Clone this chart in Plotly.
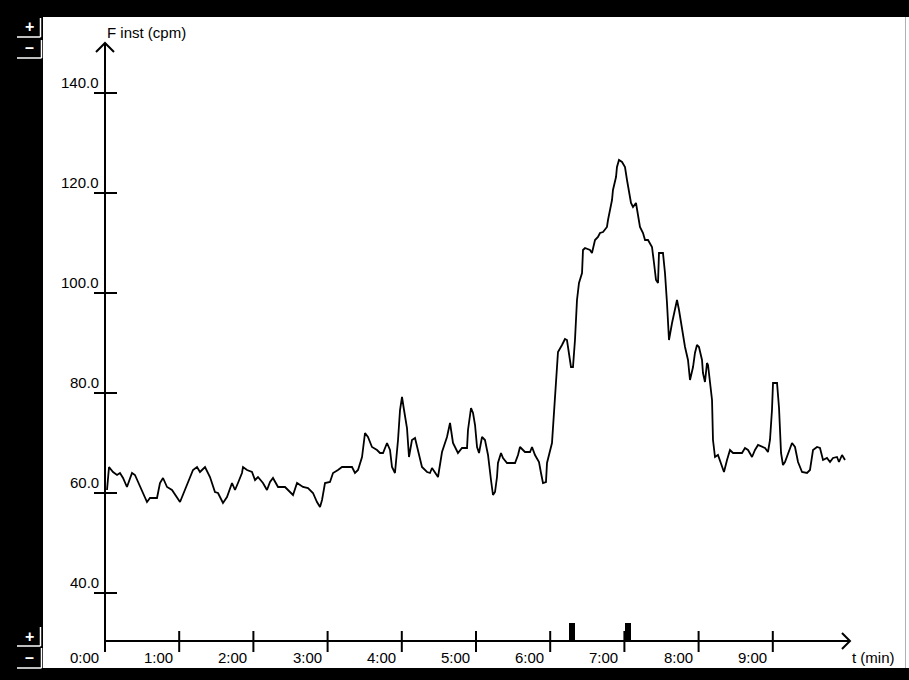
import plotly.graph_objects as go

# ---- data (time in minutes, instantaneous frequency in cpm) ----
TIME_MIN = [0.027, 0.054, 0.108, 0.162, 0.202, 0.243, 0.296, 0.364, 0.404, 0.445, 0.499, 0.566, 0.606, 0.701,
            0.741, 0.782, 0.836, 0.903, 1.011, 1.051, 1.119, 1.186, 1.240, 1.280, 1.348, 1.415, 1.482, 1.523,
            1.590, 1.644, 1.712, 1.752, 1.792, 1.846, 1.860, 1.914, 1.981, 2.022, 2.062, 2.129, 2.183, 2.224,
            2.264, 2.332, 2.426, 2.493, 2.534, 2.588, 2.668, 2.736, 2.803, 2.857, 2.898, 2.925, 2.965, 3.032,
            3.073, 3.140, 3.194, 3.275, 3.329, 3.369, 3.410, 3.464, 3.504, 3.544, 3.598, 3.666, 3.706, 3.747,
            3.801, 3.841, 3.868, 3.908, 3.949, 3.976, 4.003, 4.030, 4.070, 4.097, 4.137, 4.178, 4.218, 4.272,
            4.340, 4.380, 4.407, 4.447, 4.488, 4.542, 4.609, 4.650, 4.690, 4.757, 4.811, 4.879, 4.892, 4.933,
            4.960, 4.987, 5.014, 5.041, 5.081, 5.121, 5.162, 5.202, 5.229, 5.256, 5.283, 5.296, 5.337, 5.364,
            5.418, 5.526, 5.566, 5.593, 5.660, 5.728, 5.755, 5.795, 5.849, 5.876, 5.903, 5.943, 5.957, 6.024,
            6.051, 6.078, 6.105, 6.159, 6.199, 6.226, 6.240, 6.280, 6.307, 6.334, 6.361, 6.388, 6.429, 6.442,
            6.469, 6.536, 6.563, 6.604, 6.644, 6.671, 6.712, 6.765, 6.779, 6.806, 6.833, 6.846, 6.887, 6.900,
            6.927, 6.968, 7.008, 7.035, 7.062, 7.089, 7.116, 7.156, 7.183, 7.210, 7.251, 7.278, 7.318, 7.372,
            7.399, 7.426, 7.453, 7.466, 7.520, 7.547, 7.574, 7.601, 7.642, 7.682, 7.709, 7.736, 7.776, 7.817,
            7.857, 7.884, 7.925, 7.951, 7.978, 8.005, 8.046, 8.059, 8.086, 8.113, 8.127, 8.154, 8.181, 8.194,
            8.221, 8.261, 8.315, 8.342, 8.383, 8.423, 8.464, 8.585, 8.625, 8.666, 8.720, 8.760, 8.801, 8.854,
            8.895, 8.935, 8.962, 8.989, 9.003, 9.057, 9.084, 9.111, 9.137, 9.164, 9.205, 9.259, 9.299, 9.340,
            9.394, 9.461, 9.501, 9.542, 9.596, 9.636, 9.677, 9.730, 9.771, 9.811, 9.865, 9.892, 9.933, 9.973]
F_INST = [60.6, 65.2, 64.2, 63.6, 64.0, 63.0, 61.2, 64.0, 63.6, 62.2, 60.6, 58.2, 59.0, 59.0,
          62.0, 63.0, 61.2, 60.6, 58.2, 59.6, 62.0, 64.6, 65.2, 64.2, 65.2, 63.2, 60.2, 60.0,
          58.0, 59.2, 62.0, 60.6, 62.0, 64.0, 65.2, 64.6, 64.2, 62.6, 63.2, 62.0, 60.6, 62.2,
          63.0, 61.2, 61.2, 60.2, 59.6, 62.0, 61.2, 61.0, 60.0, 58.2, 57.2, 58.6, 62.0, 62.2,
          64.0, 64.6, 65.2, 65.2, 65.2, 64.0, 64.6, 67.2, 72.0, 71.2, 69.2, 68.6, 68.0, 68.0,
          70.0, 68.6, 65.2, 64.0, 70.6, 76.6, 79.2, 76.6, 73.0, 67.2, 70.6, 71.0, 68.6, 65.2,
          64.2, 64.0, 65.0, 64.0, 63.2, 68.2, 71.2, 74.0, 70.0, 68.0, 69.0, 69.0, 72.6, 77.0,
          76.0, 73.6, 69.2, 68.0, 71.2, 70.6, 67.6, 62.6, 59.6, 60.2, 63.2, 66.0, 68.0, 67.0,
          66.0, 66.0, 67.6, 69.2, 68.2, 68.2, 69.2, 67.6, 66.2, 64.0, 62.0, 62.2, 66.0, 70.0,
          76.6, 84.0, 88.2, 89.6, 90.8, 90.6, 89.2, 85.2, 85.2, 90.6, 98.6, 102.0, 104.0, 108.6,
          109.0, 108.6, 108.0, 110.6, 111.2, 112.0, 112.2, 113.2, 114.6, 116.6, 118.6, 120.6, 123.2, 125.2,
          126.6, 126.2, 125.2, 122.6, 120.0, 118.0, 117.2, 118.0, 115.6, 113.2, 112.0, 110.6, 110.6, 109.2,
          106.0, 102.6, 102.0, 108.0, 108.0, 104.0, 98.0, 90.6, 94.0, 96.6, 98.6, 96.6, 92.6, 89.2,
          86.6, 82.6, 85.2, 88.0, 89.6, 89.2, 86.6, 84.0, 82.2, 86.0, 85.6, 82.6, 78.6, 70.6,
          67.2, 67.6, 65.2, 64.2, 66.6, 68.6, 68.0, 68.0, 69.0, 68.6, 67.2, 68.6, 69.6, 69.2,
          69.0, 68.2, 70.6, 76.6, 82.0, 82.0, 77.0, 68.0, 65.6, 66.2, 68.0, 70.0, 69.2, 66.2,
          64.2, 64.0, 64.6, 68.6, 69.2, 69.0, 66.6, 67.0, 66.2, 67.0, 67.2, 66.2, 67.6, 66.6]

EVENT_TIMES = [6.29, 7.05]
XTICKS = [0, 1, 2, 3, 4, 5, 6, 7, 8, 9]
XTICK_LABELS = ["0:00", "1:00", "2:00", "3:00", "4:00", "5:00", "6:00", "7:00", "8:00", "9:00"]
YTICKS = [40, 60, 80, 100, 120, 140]
YTICK_LABELS = ["40.0", "60.0", "80.0", "100.0", "120.0", "140.0"]

# ---- axis geometry (data units) ----
PX_X = 74.2       # pixels per minute
PX_Y = 5.0        # pixels per cpm
X0, Y0 = 0.0, 30.4
X_END, Y_END = 10.04, 150.0
dx = lambda p: p / PX_X
dy = lambda p: p / PX_Y

FONT = "Liberation Sans, Arial, sans-serif"

fig = go.Figure()

# white panel + black frame
fig.add_shape(type="rect", xref="paper", yref="paper", x0=43/909, x1=1.0,
              y0=1-668/680, y1=1-17/680, fillcolor="white", line_width=0, layer="below")
fig.add_shape(type="line", xref="paper", yref="paper", x0=905.5/909, x1=905.5/909,
              y0=1-668/680, y1=1-17/680, line=dict(color="#b0b0b0", width=1), layer="below")

# left strip buttons (+ / -)
for (ytop, ybot, xr) in [(18, 37, 40.5), (40, 58, 41.5), (627, 646, 40.5), (648, 668, 41.5)]:
    fig.add_shape(type="line", xref="paper", yref="paper", x0=17/909, x1=xr/909,
                  y0=1-ybot/680, y1=1-ybot/680, line=dict(color="white", width=1.5))
    fig.add_shape(type="line", xref="paper", yref="paper", x0=xr/909, x1=xr/909,
                  y0=1-ytop/680, y1=1-ybot/680, line=dict(color="white", width=1.5))
for (txt, yc) in [("+", 27), ("\u2013", 48), ("+", 636), ("\u2013", 657)]:
    fig.add_annotation(xref="paper", yref="paper", x=29/909, y=1-yc/680, text="<b>%s</b>" % txt,
                       showarrow=False, xanchor="center", yanchor="middle",
                       font=dict(family=FONT, size=16, color="white"))

# data trace
fig.add_trace(go.Scatter(x=TIME_MIN, y=F_INST, mode="lines",
                         line=dict(color="black", width=1.8), hoverinfo="skip"))

# event markers on the time axis
fig.add_trace(go.Bar(x=EVENT_TIMES, y=[dy(18)] * len(EVENT_TIMES), base=Y0, width=dx(6),
                     marker=dict(color="black", line_width=0), hoverinfo="skip"))

# axes lines
ax_line = dict(color="black", width=2)
fig.add_shape(type="line", x0=X0, x1=X_END, y0=Y0, y1=Y0, line=ax_line)
fig.add_shape(type="line", x0=X0, x1=X0, y0=Y0 - dy(11), y1=Y_END, line=ax_line)
# arrowheads
fig.add_trace(go.Scatter(x=[X0 - dx(9), X0, X0 + dx(9)], y=[Y_END - dy(9), Y_END, Y_END - dy(9)],
                         mode="lines", line=ax_line, hoverinfo="skip"))
fig.add_trace(go.Scatter(x=[X_END - dx(8), X_END, X_END - dx(8)], y=[Y0 + dy(8), Y0, Y0 - dy(8)],
                         mode="lines", line=ax_line, hoverinfo="skip"))

# ticks + labels
for t, lab in zip(XTICKS, XTICK_LABELS):
    if t > 0:
        fig.add_shape(type="line", x0=t, x1=t, y0=Y0 - dy(11), y1=Y0 + dy(10), line=ax_line)
    fig.add_annotation(x=t, y=Y0, text=lab, showarrow=False, xanchor="right", yanchor="middle",
                       xshift=-4, yshift=-16, font=dict(family=FONT, size=15, color="black"))
for v, lab in zip(YTICKS, YTICK_LABELS):
    fig.add_shape(type="line", x0=X0 - dx(11), x1=X0 + dx(12), y0=v, y1=v, line=ax_line)
    fig.add_annotation(x=X0, y=v, text=lab, showarrow=False, xanchor="right", yanchor="middle",
                       xshift=-4, yshift=11, font=dict(family=FONT, size=15, color="black"))

# axis titles
fig.add_annotation(x=X0, y=Y_END, text="F inst (cpm)", showarrow=False, xanchor="left",
                   yanchor="middle", xshift=0, yshift=11, font=dict(family=FONT, size=15, color="black"))
fig.add_annotation(x=X_END, y=Y0, text="t (min)", showarrow=False, xanchor="left",
                   yanchor="middle", xshift=0, yshift=-16, font=dict(family=FONT, size=15, color="black"))

fig.update_layout(
    width=909, height=680, margin=dict(l=0, r=0, t=0, b=0),
    paper_bgcolor="black", plot_bgcolor="black", showlegend=False,
    xaxis=dict(range=[-105 / PX_X, (909 - 105) / PX_X], visible=False, fixedrange=True),
    yaxis=dict(range=[158.6 - 680 / PX_Y, 158.6], visible=False, fixedrange=True),
    bargap=0,
)

fig.write_html("out.html", config={"displayModeBar": False})
